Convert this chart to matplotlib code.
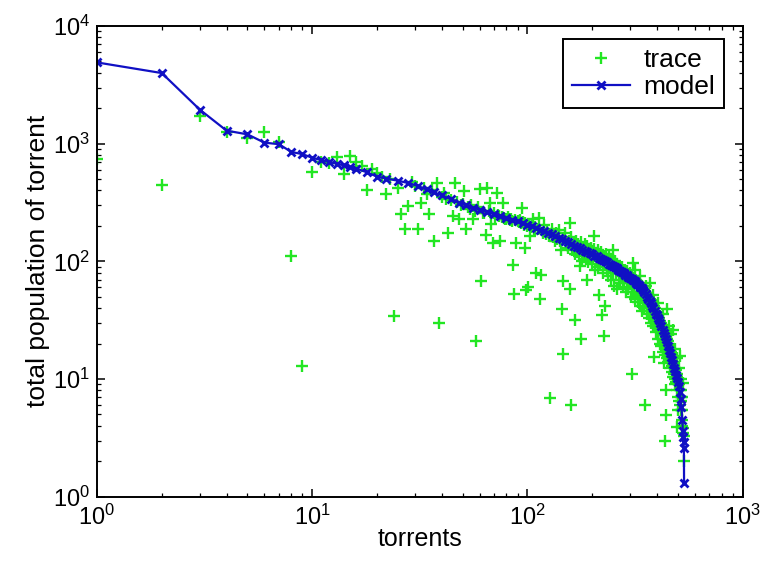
import matplotlib
matplotlib.use("Agg")
import matplotlib.pyplot as plt
from matplotlib.ticker import LogLocator, NullFormatter

plt.rcParams['font.family'] = ['Liberation Sans', 'DejaVu Sans']
plt.rcParams['mathtext.fontset'] = 'custom'
plt.rcParams['mathtext.rm'] = 'Liberation Sans'

# ---- data ----
model_rank = [1, 2, 3, 4, 5, 6, 7, 8, 9, 10, 11, 12, 13, 14, 15, 16, 18, 20, 22, 25,
              28, 31, 34, 37, 40, 44, 48, 52, 56, 60, 65, 70, 75, 80, 85, 90, 95, 100,
              105, 110, 115, 120, 125, 130, 135, 140, 145, 150, 155, 160, 165, 170, 175,
              180, 185, 190, 195, 200, 205, 210, 215, 220, 225, 230, 235, 240, 245, 250,
              255, 260, 265, 270, 275, 280, 285, 290, 295, 300, 305, 310, 315, 320, 325,
              330, 335, 340, 345, 350, 355, 360, 365, 370, 375, 380, 385, 390, 395, 400,
              405, 410, 415, 420, 425, 430, 435, 440, 445, 450, 455, 460, 465, 470, 475,
              480, 485, 490, 495, 500, 505, 510, 515, 520, 525, 528, 530, 532, 534, 535]
model_pop = [4900, 3980, 1950, 1290, 1200, 1020, 990, 850, 815, 760, 725, 700, 675, 655, 630, 615, 570, 525, 505, 485,
             462, 437, 408, 385, 363, 339, 316, 299, 285, 275, 263, 251, 243, 234, 226, 219, 211, 204,
             198, 191, 185, 180, 175, 170, 164, 159, 154, 149, 145, 140, 136, 133, 129,
             126, 123, 120, 117, 115, 112, 110, 107, 105, 102, 100, 98, 95, 93, 91,
             89, 87, 85, 83, 81, 79, 77, 76, 74, 72, 71, 69, 68, 66, 64,
             63, 61, 59, 57, 55, 53, 50, 48, 46, 44, 42, 40, 38, 36, 35,
             33, 32, 30, 28, 26, 24.5, 23, 22, 20.5, 19, 17.8, 16.6, 15.5, 14.4, 13.4,
             12.5, 11.7, 10.9, 10.2, 9.5, 8.7, 7.8, 6.8, 5.8, 4.5, 3.6, 3.2, 2.9, 2.6, 1.3]

trace_rank = [1, 2, 3, 4, 5, 6, 7, 8, 9, 10, 11, 12, 13, 14, 15, 16, 17, 18, 19, 20,
              21, 22, 23, 24, 25, 26, 27, 28, 29, 30, 31, 32, 33, 34, 35, 36, 37, 38, 39, 40,
              41, 42, 43, 44, 45, 46, 47, 48, 49, 50, 51, 52, 53, 54, 55, 56, 57, 58, 59, 60,
              61, 62, 63, 64, 65, 66, 67, 68, 69, 70, 71, 72, 73, 74, 75, 76, 77, 78, 79, 80,
              81, 82, 83, 84, 85, 86, 87, 88, 89, 90, 91, 92, 93, 94, 95, 96, 97, 98, 99, 100,
              101, 102, 103, 104, 105, 106, 107, 108, 109, 110, 112, 113, 114, 116, 118, 120,
              122, 124, 126, 128, 130, 132, 134, 136, 138, 140, 142, 144, 145, 146, 147, 148,
              150, 152, 154, 156, 157, 158, 159, 160, 162, 164, 166, 167, 168, 170, 172, 174,
              176, 177, 178, 180, 182, 184, 186, 188, 189, 190, 192, 194, 196, 198, 200, 202,
              203, 204, 206, 208, 210, 212, 214, 215, 216, 218, 220, 222, 224, 226, 228, 230,
              232, 234, 236, 238, 240, 242, 244, 246, 248, 250, 251, 252, 254, 256, 258, 260,
              262, 264, 266, 268, 270, 272, 274, 276, 278, 280, 282, 284, 286, 288, 290, 292,
              294, 296, 298, 300, 302, 304, 305, 306, 308, 310, 311, 312, 314, 315, 316, 318,
              320, 322, 324, 326, 328, 330, 332, 334, 335, 336, 338, 340, 342, 344, 346, 348,
              350, 352, 354, 355, 356, 358, 360, 362, 364, 366, 368, 370, 372, 373, 374, 376,
              378, 380, 382, 384, 385, 386, 388, 390, 392, 394, 396, 398, 400, 402, 404, 405,
              406, 408, 410, 412, 414, 416, 418, 420, 422, 424, 425, 426, 428, 430, 431, 432,
              434, 436, 437, 438, 439, 440, 441, 442, 444, 445, 446, 448, 450, 452, 454, 455,
              456, 458, 460, 462, 464, 465, 466, 468, 470, 472, 474, 475, 477, 478, 480, 482,
              484, 485, 486, 488, 490, 492, 494, 495, 496, 497, 498, 499, 500, 502, 504, 505,
              506, 508, 510, 511, 512, 515, 516, 517, 518, 520, 522, 523, 524, 526, 527, 528,
              530, 532, 535]
trace_pop = [740, 445, 1725, 1245, 1110, 1260, 1040, 112, 13, 575, 700, 690, 767, 550, 787, 692, 640, 400, 607, 560,
             520, 372, 500, 34, 424, 251, 187, 295, 470, 440, 190, 315, 420, 372, 251, 400, 149, 467, 30, 350,
             380, 340, 175, 330, 243, 467, 320, 227, 300, 310, 396, 187, 290, 280, 300, 227, 270, 21, 290, 410,
             68, 260, 255, 169, 424, 270, 316, 206, 144, 260, 240, 384, 250, 245, 149, 240, 315, 235, 230, 227,
             240, 230, 225, 228, 220, 94, 53, 225, 144, 220, 215, 225, 210, 286, 215, 205, 131, 210, 57, 200,
             61, 205, 164, 195, 198, 227, 190, 195, 185, 80, 190, 235, 48, 77, 175, 205,
             170, 185, 165, 6.9, 190, 160, 150, 175, 155, 185, 150, 125, 39, 16.4, 68, 155,
             175, 140, 130, 150, 213, 58, 6.0, 160, 125, 140, 115, 32, 150, 120, 140, 110,
             91, 22, 145, 100, 130, 118, 140, 105, 70, 135, 98, 125, 110, 130, 95, 120,
             164, 128, 85, 118, 100, 125, 90, 52, 115, 95, 120, 35, 80, 23, 110, 41.7,
             115, 85, 105, 75, 110, 88, 100, 70, 105, 80, 126, 98, 62, 100, 80, 95,
             58, 90, 70, 92, 65, 88, 75, 90, 60, 85, 70, 85, 55, 80, 65, 82,
             58, 78, 68, 80, 50, 75, 11.1, 62, 74, 55, 97, 72, 60, 85, 70, 48,
             70, 55, 68, 45, 66, 52, 64, 42, 75, 62, 50, 62, 38, 58, 46, 58,
             40, 56, 6.0, 62, 44, 54, 36, 52, 40, 50, 33, 48, 38, 66, 47, 30,
             45, 35, 43, 28, 52, 42, 15.5, 40, 30, 38, 25, 37, 28, 36, 22, 44,
             34, 26, 33, 20, 31, 24, 30, 19, 29, 22, 36, 27, 17, 26, 13.7, 20,
             25, 16, 3.0, 24, 8.1, 18, 4.9, 23, 15, 39, 22, 17, 21, 14, 20, 28,
             15, 19, 12.5, 18, 14, 24, 17, 11.5, 16, 13, 15, 26, 10.5, 14, 11, 13.5,
             10, 18, 12.5, 9, 12, 9.5, 11, 15, 8, 3.9, 10.5, 5.5, 9, 10, 7, 12.5,
             9, 6.5, 8, 15.6, 6, 8.1, 7, 10, 5.5, 6.5, 4.5, 7, 5.5, 4, 9.2, 3.8,
             3.5, 3.3, 2.0]

assert len(model_rank) == len(model_pop)
assert len(trace_rank) == len(trace_pop)

xlabel = "torrents"
ylabel = "total population of torrent"

# ---- figure ----
fig = plt.figure(figsize=(7.83, 5.61), dpi=100)
ax = fig.add_axes([0.1239, 0.1146, 0.8244, 0.8391])

green = '#22e622'
blue = '#1010c4'

ax.plot(trace_rank, trace_pop, linestyle='none', marker='+', markersize=8,
        markeredgewidth=1.7, color=green, label='trace')
ax.plot(model_rank, model_pop, linestyle='-', linewidth=1.6, marker='x', markersize=5.5,
        markeredgewidth=2.0, color=blue, label='model')

ax.set_xscale('log')
ax.set_yscale('log')
ax.set_xlim(1, 1000)
ax.set_ylim(1, 10000)

ax.xaxis.set_major_locator(LogLocator(base=10, numticks=10))
ax.yaxis.set_major_locator(LogLocator(base=10, numticks=10))
ax.xaxis.set_minor_locator(LogLocator(base=10, subs=range(2, 10), numticks=100))
ax.yaxis.set_minor_locator(LogLocator(base=10, subs=range(2, 10), numticks=100))
ax.xaxis.set_minor_formatter(NullFormatter())
ax.yaxis.set_minor_formatter(NullFormatter())

ax.tick_params(which='both', direction='in', top=True, right=True, labelsize=17, colors='black')
ax.tick_params(which='major', length=6, width=1.1)
ax.tick_params(which='minor', length=3, width=0.9)
ax.tick_params(axis='x', which='major', pad=6)
ax.tick_params(axis='y', which='major', pad=5)

for s in ax.spines.values():
    s.set_linewidth(1.4)
    s.set_color('black')

ax.set_xlabel(xlabel, fontsize=18, labelpad=-2)
ax.set_ylabel(ylabel, fontsize=19, labelpad=2)

leg = ax.legend(loc='upper right', bbox_to_anchor=(0.972, 0.972), borderaxespad=0,
                fontsize=19, frameon=True, fancybox=False, handlelength=2.2,
                handletextpad=0.5, borderpad=0.35, labelspacing=0.1)
leg.get_frame().set_edgecolor('black')
leg.get_frame().set_linewidth(1.4)
leg.get_frame().set_alpha(1)

fig.savefig('out.png', dpi=100)
